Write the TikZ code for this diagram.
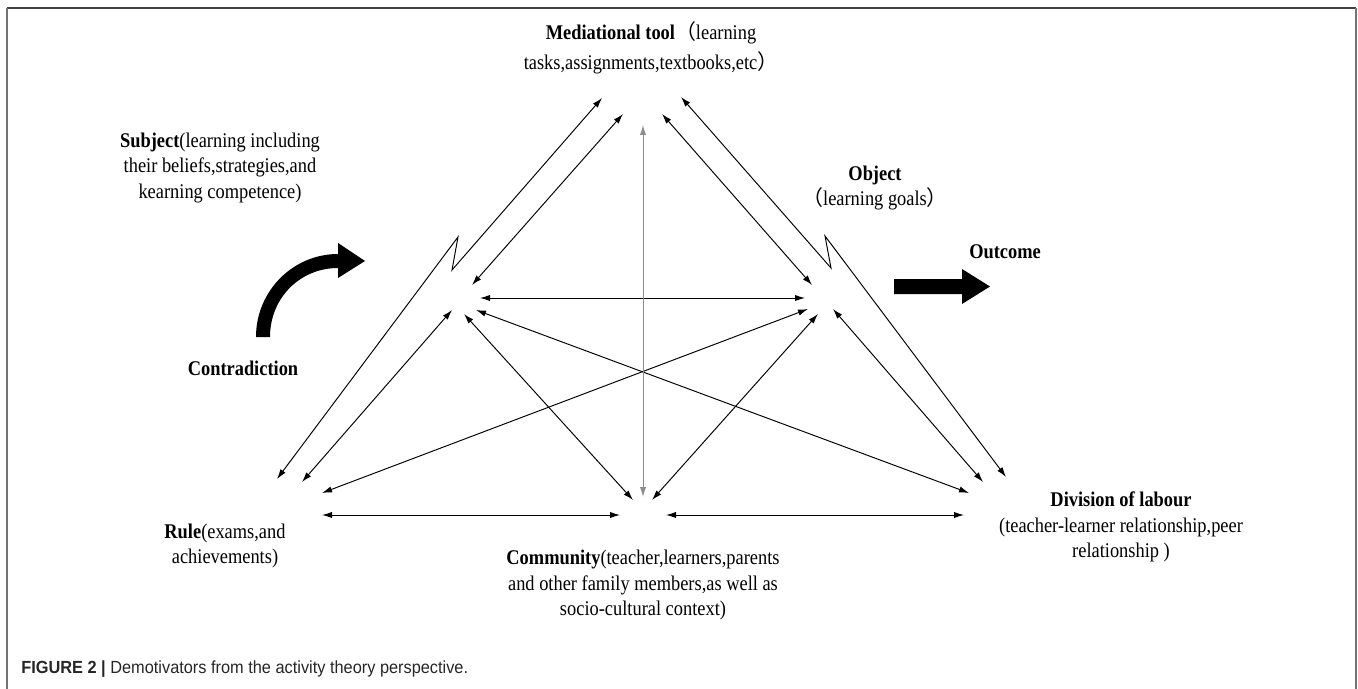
\documentclass[tikz,border=0pt]{standalone}
\usepackage{fontspec}
\setmainfont{Liberation Serif}[FakeStretch=0.88]
\newfontfamily\capfont{Liberation Sans}[FakeStretch=0.93]
\newfontfamily\cjk{Noto Sans CJK SC}
\usetikzlibrary{arrows.meta}

\newcommand{\lpar}{{\cjk （}}
\newcommand{\rpar}{{\cjk ）}}

\begin{document}
\begin{tikzpicture}[x=0.02cm, y=-0.02cm,
    >={Latex[length=2mm,width=1.25mm]},
    link/.style={<->, line width=0.55pt},
    txt/.style={align=center, inner sep=0pt, font=\fontsize{11.9}{14.7}\selectfont}]
    \useasboundingbox (0,0) rectangle (1358,689);

    % frame
    \draw[black!75, line width=1.2pt] (7,8) -- (1356,8);
    \draw[black!55, line width=1.2pt] (7,8) -- (7,689) (1356,8) -- (1356,689);

    % arrow ends round each corner
    \coordinate (tool-l) at (602,98);
    \coordinate (tool-il) at (623,114);
    \coordinate (tool-c) at (643,125);
    \coordinate (tool-ir) at (662,114);
    \coordinate (tool-r) at (681,97);
    \coordinate (subj-t) at (472,285);
    \coordinate (subj-r) at (480,298);
    \coordinate (subj-d) at (476,310);
    \coordinate (subj-b) at (452,310);
    \coordinate (subj-c) at (464,314);
    \coordinate (obj-t) at (812,285);
    \coordinate (obj-l) at (805,298);
    \coordinate (obj-r) at (808,309);
    \coordinate (obj-c) at (818,314);
    \coordinate (obj-b) at (833,309);
    \coordinate (rule-o) at (277,479);
    \coordinate (rule-s) at (302,482);
    \coordinate (rule-x) at (322,493);
    \coordinate (rule-h) at (322,515);
    \coordinate (com-l) at (620,515);
    \coordinate (com-r) at (666,515);
    \coordinate (com-s) at (633,500);
    \coordinate (com-o) at (652,500);
    \coordinate (com-t) at (643,497);
    \coordinate (div-o) at (1006,477);
    \coordinate (div-b) at (983,482);
    \coordinate (div-x) at (969,493);
    \coordinate (div-h) at (964,515);
    \coordinate (zl-a) at (452,270);
    \coordinate (zl-b) at (458,237);
    \coordinate (zr-a) at (831,268);
    \coordinate (zr-b) at (825,236);

    \path[link]
    (subj-r) edge (obj-l)
    (subj-t) edge (tool-il)
    (obj-t) edge (tool-ir)
    (subj-b) edge (rule-s)
    (obj-b) edge (div-b)
    (rule-x) edge (obj-r)
    (subj-d) edge (div-x)
    (subj-c) edge (com-s)
    (obj-c) edge (com-o)
    (rule-h) edge (com-l)
    (com-r) edge (div-h);
    \draw[link, black!45] (tool-c) -- (com-t);

    % contradiction lines
    \draw[link] (tool-l) -- (zl-a) -- (zl-b) -- (rule-o);
    \draw[link] (tool-r) -- (zr-a) -- (zr-b) -- (div-o);

    \node[txt, font=\fontsize{11.9}{17}\selectfont] (tool) at (651,48) {\textbf{Mediational tool}\lpar learning\\tasks,assignments,textbooks,etc\rpar};
    \node[txt] (subj) at (220,168) {\textbf{Subject}(learning including\\their beliefs,strategies,and\\kearning competence)};
    \node[txt] (obj) at (875,188) {\textbf{Object}\\\lpar learning goals\rpar};
    \node[txt] (out) at (1005,252) {\textbf{Outcome}};
    \node[txt] (contra) at (243,368) {\textbf{Contradiction}};
    \node[txt] (rule) at (225,546) {\textbf{Rule}(exams,and\\achievements)};
    \node[txt] (com) at (643,585) {\textbf{Community}(teacher,learners,parents\\and other family members,as well as\\socio-cultural context)};
    \node[txt] (div) at (1121,527) {\textbf{Division of labour}\\(teacher-learner relationship,peer\\relationship )};

    % block arrows
    \fill (894,279) -- (962,279) -- (962,269) -- (990,286.5) -- (962,304) -- (962,294) -- (894,294) -- cycle;
    \fill (256,337) .. controls (256,291) and (293,254) .. (338,254) -- (338,243) -- (365,261)
        -- (338,278) -- (338,268) .. controls (300,268) and (270,298) .. (270,337) -- cycle;

    \node[anchor=west, inner sep=0pt, text=black!85, font=\capfont\fontsize{10}{12}\selectfont] (cap) at (21,669)
        {\textbf{FIGURE 2 |} Demotivators from the activity theory perspective.};
\end{tikzpicture}
\end{document}
